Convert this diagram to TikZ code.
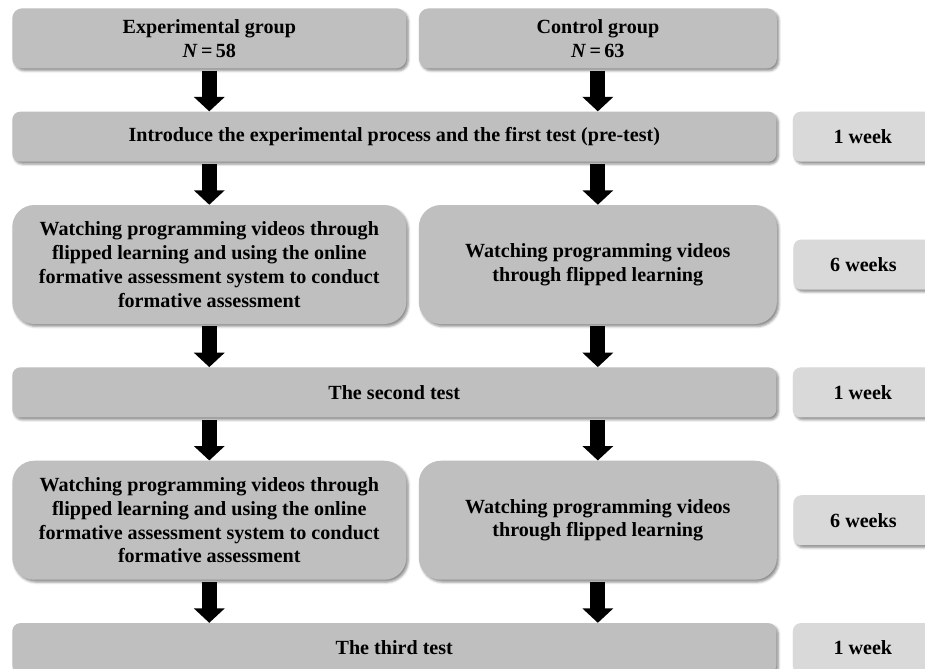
\documentclass[tikz,border=0pt]{standalone}
\usepackage{fontspec}
\setmainfont{Liberation Serif}
\usetikzlibrary{arrows.meta, positioning, shadows.blur}

\begin{document}
\begin{tikzpicture}[
    node distance=1.07cm,
    box/.style={rectangle, fill=gray!50, align=center, inner sep=0pt,
        font=\fontsize{14.3}{16.9}\selectfont\bfseries,
        blur shadow={shadow xshift=0.05cm, shadow yshift=-0.06cm, shadow blur radius=0.06cm, shadow opacity=45}},
    groupbox/.style={box, rounded corners=0.25cm, minimum height=1.5cm},
    widebox/.style={box, rounded corners=0.2cm, minimum width=19.1cm, minimum height=1.25cm},
    stepbox/.style={box, rounded corners=0.55cm, minimum height=2.975cm},
    weekbox/.style={box, fill=gray!30, rounded corners=0.2cm, minimum width=3.5cm, minimum height=1.25cm},
    arr/.style={line width=0.375cm, -{Triangle[length=0.36cm, width=0.75cm]}},
]
\useasboundingbox (0,0) rectangle (23.125,-16.7);

% Nodes
\node[groupbox, minimum width=9.85cm, anchor=north west] (expgrp) at (0.3,-0.2) {Experimental group\\\textit{N}\,=\,58};
\node[groupbox, minimum width=8.95cm, right=0.3cm of expgrp] (ctrlgrp) {Control group\\\textit{N}\,=\,63};

\node[widebox, below=of expgrp.south west, anchor=north west] (pretest) {Introduce the experimental process and the first test (pre-test)};
\node[weekbox, right=0.4cm of pretest] (wk1) {1 week};

\node[stepbox, minimum width=9.85cm, below=of pretest.south west, anchor=north west] (expA) {Watching programming videos through\\flipped learning and using the online\\formative assessment system to conduct\\formative assessment};
\node[stepbox, minimum width=8.95cm, right=0.3cm of expA] (ctrlA) {Watching programming videos\\through flipped learning};
\node[weekbox, right=0.4cm of ctrlA] (wk2) {6 weeks};

\node[widebox, below=of expA.south west, anchor=north west] (test2) {The second test};
\node[weekbox, right=0.4cm of test2] (wk3) {1 week};

\node[stepbox, minimum width=9.85cm, below=of test2.south west, anchor=north west] (expB) {Watching programming videos through\\flipped learning and using the online\\formative assessment system to conduct\\formative assessment};
\node[stepbox, minimum width=8.95cm, right=0.3cm of expB] (ctrlB) {Watching programming videos\\through flipped learning};
\node[weekbox, right=0.4cm of ctrlB] (wk4) {6 weeks};

\node[widebox, below=of expB.south west, anchor=north west] (test3) {The third test};
\node[weekbox, right=0.4cm of test3] (wk5) {1 week};

% Arrows
\draw[arr] ([yshift=-0.05cm]expgrp.south) -- (expgrp.south |- pretest.north);
\draw[arr] ([yshift=-0.05cm]ctrlgrp.south) -- (ctrlgrp.south |- pretest.north);

\draw[arr] ([yshift=-0.05cm]expA.north |- pretest.south) -- (expA.north);
\draw[arr] ([yshift=-0.05cm]ctrlA.north |- pretest.south) -- (ctrlA.north);

\draw[arr] ([yshift=-0.05cm]expA.south) -- (expA.south |- test2.north);
\draw[arr] ([yshift=-0.05cm]ctrlA.south) -- (ctrlA.south |- test2.north);

\draw[arr] ([yshift=-0.05cm]expB.north |- test2.south) -- (expB.north);
\draw[arr] ([yshift=-0.05cm]ctrlB.north |- test2.south) -- (ctrlB.north);

\draw[arr] ([yshift=-0.05cm]expB.south) -- (expB.south |- test3.north);
\draw[arr] ([yshift=-0.05cm]ctrlB.south) -- (ctrlB.south |- test3.north);

\end{tikzpicture}
\end{document}
